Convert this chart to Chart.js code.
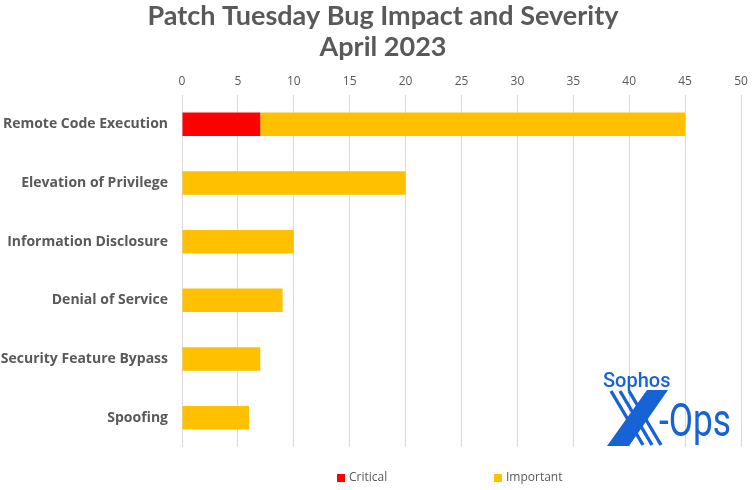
<!DOCTYPE html>
<html>
<head>
<meta charset="utf-8">
<script src="https://cdn.jsdelivr.net/npm/chart.js@4.4.0/dist/chart.umd.min.js"></script>
<style>
  html, body { margin: 0; padding: 0; background: #fff; }
  #wrap { width: 754px; height: 490px; }
</style>
</head>
<body>
<div id="wrap"><canvas id="chart"></canvas></div>
<script>
// Chart data
const categories = ['Remote Code Execution', 'Elevation of Privilege', 'Information Disclosure',
                    'Denial of Service', 'Security Feature Bypass', 'Spoofing'];
const criticalCounts = [7, null, null, null, null, null];
const importantCounts = [38, 20, 10, 9, 7, 6];
const titleLines = ['Patch Tuesday Bug Impact and Severity', 'April 2023'];
const xMax = 50;
const xStep = 5;

const GRAY = '#595959';

// title drawn by hand: the original sits a little right of the canvas centre
const offsetTitle = {
    id: 'offsetTitle',
    afterDraw(chart) {
        const ctx = chart.ctx;
        ctx.save();
        ctx.font = 'bold 27px Lato';
        ctx.fillStyle = GRAY;
        ctx.textAlign = 'center';
        ctx.textBaseline = 'middle';
        titleLines.forEach((line, i) => ctx.fillText(line, 383, 16 + i * 31));
        ctx.restore();
    }
};

// legend drawn by hand so the items can sit far apart like the original
const spacedLegend = {
    id: 'spacedLegend',
    afterDraw(chart) {
        const ctx = chart.ctx;
        const slots = [337, 494];
        ctx.save();
        ctx.font = '12px "Open Sans"';
        ctx.textBaseline = 'middle';
        chart.data.datasets.forEach((ds, i) => {
            const x = slots[i];
            ctx.fillStyle = ds.backgroundColor;
            ctx.fillRect(x, 474, 8, 8);
            ctx.fillStyle = GRAY;
            ctx.fillText(ds.label, x + 12, 478);
        });
        ctx.restore();
    }
};

// Sophos X-Ops mark in the lower right corner
const logo = {
    id: 'logo',
    afterDraw(chart) {
        const ctx = chart.ctx;
        const blue = '#1763d6';
        ctx.save();
        ctx.fillStyle = blue;
        ctx.strokeStyle = blue;
        ctx.font = '500 20px Roboto';
        ctx.textBaseline = 'alphabetic';
        ctx.fillText('Sophos', 603, 387);

        // thin stripes
        ctx.lineWidth = 3.4;
        for (let i = 0; i < 3; i++) {
            ctx.beginPath();
            ctx.moveTo(611 + i * 9, 391);
            ctx.lineTo(643 + i * 9, 445);
            ctx.stroke();
        }
        // thick band
        ctx.beginPath();
        ctx.moveTo(647, 390);
        ctx.lineTo(668, 390);
        ctx.lineTo(629, 446);
        ctx.lineTo(607, 446);
        ctx.closePath();
        ctx.fill();

        ctx.font = '46px Roboto';
        const w = ctx.measureText('-Ops').width;
        ctx.translate(659, 436);
        ctx.scale(72 / w, 1);
        ctx.fillText('-Ops', 0, 0);
        ctx.restore();
    }
};

const ctx = document.getElementById('chart').getContext('2d');
new Chart(ctx, {
    type: 'bar',
    data: {
        labels: categories,
        datasets: [
            { label: 'Critical', data: criticalCounts, backgroundColor: '#ff0000',
              categoryPercentage: 1, barPercentage: 0.4 },
            { label: 'Important', data: importantCounts, backgroundColor: '#ffc000',
              categoryPercentage: 1, barPercentage: 0.4 }
        ]
    },
    options: {
        indexAxis: 'y',
        responsive: true,
        maintainAspectRatio: false,
        animation: false,
        layout: { padding: { left: 0, right: 13, top: 63, bottom: 43 } },
        scales: {
            x: {
                position: 'top',
                stacked: true,
                min: 0,
                max: xMax,
                ticks: { stepSize: xStep, color: GRAY, font: { family: 'Open Sans', size: 12 }, padding: 6 },
                grid: { color: '#d9d9d9', drawTicks: false },
                border: { display: false },
                afterFit(scale) { scale.height = 32; }
            },
            y: {
                stacked: true,
                ticks: { color: GRAY, font: { family: 'Open Sans', size: 14, weight: 'bold' }, padding: 6 },
                grid: { display: false },
                border: { display: false },
                afterFit(scale) { scale.width = 182; }
            }
        },
        plugins: {
            legend: { display: false },
            tooltip: { enabled: false },
            title: { display: false }
        }
    },
    plugins: [offsetTitle, spacedLegend, logo]
});
</script>
</body>
</html>
